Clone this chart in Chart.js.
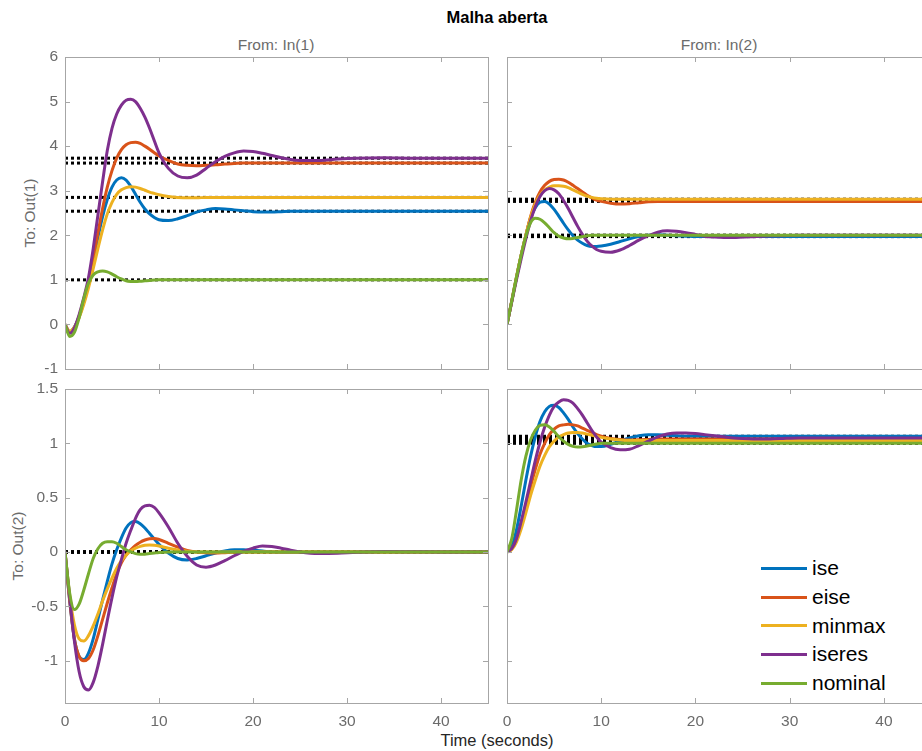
<!DOCTYPE html>
<html>
<head>
<meta charset="utf-8">
<script src="https://cdn.jsdelivr.net/npm/chart.js@4.4.1/dist/chart.umd.min.js"></script>
<style>
  html, body { margin: 0; padding: 0; background: #fff; width: 922px; height: 751px; overflow: hidden; }
  body { position: relative; font-family: "Liberation Sans", Arial, Helvetica, sans-serif; }
  canvas { position: absolute; }
  .txt { position: absolute; white-space: nowrap; transform: translate(-50%, -50%); }
  .gray { color: #6b6b6b; font-size: 15.5px; }
  .rot { transform: translate(-50%, -50%) rotate(-90deg); }
  #legend { position: absolute; left: 761px; top: 554px; }
  .row { height: 28.7px; display: flex; align-items: center; font-size: 21px; color: #000; }
  .swatch { width: 46px; height: 3px; margin-right: 5px; }
</style>
</head>
<body>
<div class="txt" style="left:497px;top:17px;font-weight:bold;font-size:16.5px;color:#000">Malha aberta</div>
<div class="txt gray" style="left:276px;top:45px">From: In(1)</div>
<div class="txt gray" style="left:719px;top:45px">From: In(2)</div>
<div class="txt gray rot" style="left:30px;top:213px">To: Out(1)</div>
<div class="txt gray rot" style="left:18px;top:546px">To: Out(2)</div>
<div class="txt" style="left:497px;top:740px;font-size:16.5px;color:#262626">Time (seconds)</div>
<div id="legend"></div>

<script>
// time samples (s), shared by all step responses
const t = [0, 0.5, 1, 1.5, 2, 2.5, 3, 3.5, 4, 4.5, 5, 5.5, 6, 6.5, 7, 7.5, 8, 8.5, 9, 9.5, 10,
  11, 12, 13, 14, 15, 16, 17, 18, 19, 20, 21, 22, 23, 24, 25,
  27, 29, 31, 34, 37, 40, 45];

const seriesNames = ['ise', 'eise', 'minmax', 'iseres', 'nominal'];
const seriesColors = ['#0072BD', '#D95319', '#EDB120', '#7E2F8E', '#77AC30'];

// In(1) -> Out(1)
const ise11 = [0, -0.17, -0.06, 0.17, 0.5, 0.92, 1.42, 1.95, 2.42, 2.8, 3.08, 3.24, 3.29, 3.24, 3.1, 2.92, 2.74, 2.59, 2.48, 2.4, 2.35,
  2.33, 2.37, 2.44, 2.52, 2.57, 2.6, 2.59, 2.57, 2.55, 2.53, 2.52, 2.52, 2.53, 2.54, 2.54,
  2.54, 2.54, 2.54, 2.54, 2.54, 2.54, 2.54];
const eise11 = [0, -0.17, -0.07, 0.18, 0.52, 0.95, 1.5, 2.05, 2.6, 3.08, 3.45, 3.73, 3.92, 4.03, 4.08, 4.09, 4.06, 4.0, 3.93, 3.85, 3.78,
  3.68, 3.6, 3.57, 3.56, 3.57, 3.58, 3.6, 3.61, 3.62, 3.62, 3.62, 3.62, 3.62, 3.62, 3.62,
  3.62, 3.62, 3.62, 3.62, 3.62, 3.62, 3.62];
const minmax11 = [0, -0.15, -0.06, 0.15, 0.45, 0.82, 1.25, 1.7, 2.12, 2.48, 2.74, 2.92, 3.02, 3.07, 3.09, 3.08, 3.05, 3.01, 2.97, 2.94, 2.91,
  2.87, 2.85, 2.84, 2.84, 2.85, 2.85, 2.85, 2.85, 2.85, 2.85, 2.85, 2.85, 2.85, 2.85, 2.85,
  2.85, 2.85, 2.85, 2.85, 2.85, 2.85, 2.85];
const iseres11 = [0, -0.2, -0.08, 0.22, 0.6, 1.05, 1.7, 2.45, 3.2, 3.9, 4.4, 4.72, 4.92, 5.03, 5.05, 5.0, 4.85, 4.65, 4.4, 4.12, 3.85,
  3.5, 3.33, 3.29, 3.35, 3.5, 3.65, 3.77, 3.85, 3.89, 3.88, 3.84, 3.79, 3.74, 3.7, 3.68,
  3.68, 3.71, 3.73, 3.74, 3.73, 3.73, 3.73];
const nominal11 = [0, -0.27, -0.18, 0.15, 0.58, 0.93, 1.11, 1.18, 1.2, 1.18, 1.13, 1.07, 1.02, 0.98, 0.965, 0.962, 0.968, 0.978, 0.988, 0.995, 1.0,
  1, 1, 1, 1, 1, 1, 1, 1, 1, 1, 1, 1, 1, 1, 1,
  1, 1, 1, 1, 1, 1, 1];

// In(2) -> Out(1)
const ise12 = [0, 0.52, 1.05, 1.55, 2.0, 2.38, 2.62, 2.74, 2.76, 2.7, 2.58, 2.43, 2.27, 2.12, 1.99, 1.89, 1.82, 1.77, 1.75, 1.75, 1.76,
  1.8, 1.86, 1.92, 1.97, 2.0, 2.01, 2.0, 1.99, 1.98, 1.97, 1.97, 1.97, 1.97, 1.97, 1.97,
  1.97, 1.97, 1.97, 1.97, 1.97, 1.97, 1.97];
const eise12 = [0, 0.52, 1.05, 1.55, 2.0, 2.42, 2.74, 2.97, 3.12, 3.21, 3.25, 3.26, 3.24, 3.19, 3.12, 3.05, 2.97, 2.9, 2.84, 2.79, 2.76,
  2.72, 2.7, 2.71, 2.73, 2.75, 2.76, 2.76, 2.76, 2.76, 2.76, 2.76, 2.76, 2.76, 2.76, 2.76,
  2.76, 2.76, 2.76, 2.76, 2.76, 2.76, 2.76];
const minmax12 = [0, 0.52, 1.05, 1.55, 2.0, 2.4, 2.7, 2.9, 3.02, 3.08, 3.11, 3.11, 3.1, 3.07, 3.02, 2.97, 2.92, 2.88, 2.85, 2.83, 2.82,
  2.81, 2.81, 2.81, 2.81, 2.81, 2.81, 2.81, 2.81, 2.81, 2.81, 2.81, 2.81, 2.81, 2.81, 2.81,
  2.81, 2.81, 2.81, 2.81, 2.81, 2.81, 2.81];
const iseres12 = [0, 0.5, 1.0, 1.47, 1.92, 2.32, 2.64, 2.87, 3.0, 3.05, 3.02, 2.93, 2.78, 2.6, 2.4, 2.2, 2.02, 1.87, 1.76, 1.68, 1.64,
  1.62, 1.67, 1.77, 1.89, 1.99, 2.07, 2.1, 2.09, 2.06, 2.02, 1.98, 1.96, 1.95, 1.95, 1.96,
  1.98, 1.99, 2.0, 2.0, 2.0, 2.0, 2.0];
const nominal12 = [0, 0.52, 1.05, 1.55, 1.98, 2.28, 2.38, 2.36, 2.28, 2.17, 2.06, 1.98, 1.94, 1.92, 1.93, 1.95, 1.97, 1.99, 2.0, 2.0, 2.0,
  2, 2, 2, 2, 2, 2, 2, 2, 2, 2, 2, 2, 2, 2, 2,
  2, 2, 2, 2, 2, 2, 2];

// In(1) -> Out(2)
const ise21 = [0, -0.45, -0.8, -0.96, -0.99, -0.93, -0.8, -0.62, -0.44, -0.27, -0.11, 0.02, 0.13, 0.22, 0.27, 0.28, 0.26, 0.22, 0.17, 0.12, 0.07,
  -0.01, -0.06, -0.073, -0.06, -0.035, -0.01, 0.01, 0.02, 0.02, 0.015, 0.008, 0, -0.005, -0.005, -0.003,
  0, 0, 0, 0, 0, 0, 0];
const eise21 = [0, -0.45, -0.8, -0.96, -1.0, -0.98, -0.9, -0.77, -0.62, -0.47, -0.33, -0.2, -0.1, -0.03, 0.02, 0.06, 0.09, 0.11, 0.122, 0.125, 0.115,
  0.08, 0.045, 0.015, 0, -0.008, -0.01, -0.006, -0.002, 0, 0, 0, 0, 0, 0, 0,
  0, 0, 0, 0, 0, 0, 0];
const minmax21 = [0, -0.4, -0.67, -0.8, -0.82, -0.77, -0.68, -0.57, -0.45, -0.34, -0.24, -0.15, -0.08, -0.03, 0.01, 0.035, 0.052, 0.062, 0.065, 0.062, 0.055,
  0.035, 0.018, 0.006, 0, 0, 0, 0, 0, 0, 0, 0, 0, 0, 0, 0,
  0, 0, 0, 0, 0, 0, 0];
const iseres21 = [0, -0.42, -0.82, -1.1, -1.24, -1.27, -1.2, -1.05, -0.85, -0.63, -0.42, -0.23, -0.07, 0.08, 0.2, 0.31, 0.39, 0.425, 0.43, 0.41, 0.36,
  0.23, 0.08, -0.04, -0.12, -0.14, -0.12, -0.08, -0.035, 0.005, 0.035, 0.055, 0.05, 0.035, 0.017, 0,
  -0.015, -0.012, -0.003, 0.004, 0.002, 0, 0];
const nominal21 = [0, -0.38, -0.53, -0.48, -0.35, -0.2, -0.06, 0.03, 0.08, 0.095, 0.095, 0.08, 0.05, 0.02, 0, -0.015, -0.02, -0.02, -0.015, -0.01, -0.005,
  0, 0, 0, 0, 0, 0, 0, 0, 0, 0, 0, 0, 0, 0, 0,
  0, 0, 0, 0, 0, 0, 0];

// In(2) -> Out(2)
const ise22 = [0, 0.05, 0.2, 0.42, 0.66, 0.88, 1.06, 1.2, 1.29, 1.34, 1.35, 1.33, 1.28, 1.22, 1.15, 1.09, 1.04, 1.0, 0.98, 0.97, 0.97,
  0.99, 1.02, 1.05, 1.07, 1.08, 1.08, 1.075, 1.07, 1.065, 1.065, 1.065, 1.065, 1.065, 1.065, 1.065,
  1.065, 1.065, 1.065, 1.065, 1.065, 1.065, 1.065];
const eise22 = [0, 0.03, 0.11, 0.25, 0.42, 0.6, 0.76, 0.9, 1.0, 1.08, 1.13, 1.16, 1.17, 1.175, 1.17, 1.16, 1.14, 1.12, 1.1, 1.08, 1.065,
  1.045, 1.035, 1.03, 1.032, 1.036, 1.04, 1.04, 1.04, 1.04, 1.04, 1.04, 1.04, 1.04, 1.04, 1.04,
  1.04, 1.04, 1.04, 1.04, 1.04, 1.04, 1.04];
const minmax22 = [0, 0.02, 0.09, 0.21, 0.36, 0.52, 0.66, 0.79, 0.89, 0.97, 1.02, 1.06, 1.08, 1.095, 1.1, 1.1, 1.095, 1.085, 1.075, 1.065, 1.055,
  1.04, 1.03, 1.025, 1.025, 1.025, 1.025, 1.025, 1.025, 1.025, 1.025, 1.025, 1.025, 1.025, 1.025, 1.025,
  1.025, 1.025, 1.025, 1.025, 1.025, 1.025, 1.025];
const iseres22 = [0, 0.03, 0.12, 0.28, 0.46, 0.65, 0.84, 1.01, 1.15, 1.26, 1.34, 1.38, 1.4, 1.395, 1.37, 1.32, 1.26, 1.19, 1.12, 1.06, 1.01,
  0.96, 0.94, 0.945, 0.98, 1.02, 1.06, 1.085, 1.095, 1.095, 1.09, 1.08, 1.07, 1.06, 1.05, 1.045,
  1.04, 1.045, 1.05, 1.05, 1.05, 1.05, 1.05];
const nominal22 = [0, 0.12, 0.38, 0.66, 0.88, 1.03, 1.12, 1.165, 1.17, 1.15, 1.11, 1.06, 1.02, 0.99, 0.972, 0.966, 0.968, 0.975, 0.985, 0.993, 1.0,
  1, 1, 1, 1, 1, 1, 1, 1, 1, 1, 1, 1, 1, 1, 1,
  1, 1, 1, 1, 1, 1, 1];

// steady-state values (dotted markers), same order as seriesNames
const steady11 = [2.54, 3.62, 2.85, 3.73, 1.0];
const steady12 = [1.97, 2.76, 2.81, 2.0, 2.0];
const steady21 = [0, 0, 0, 0, 0];
const steady22 = [1.065, 1.04, 1.025, 1.05, 1.0];

const xTicks = [0, 10, 20, 30, 40];
const yTicksOut1 = [-1, 0, 1, 2, 3, 4, 5, 6];
const yTicksOut2 = [-1, -0.5, 0, 0.5, 1, 1.5];

const frameColor = '#a6a6a6';
const tickTextColor = '#6b6b6b';
const fontFamily = '"Liberation Sans", Arial, Helvetica, sans-serif';

// MATLAB-style box with inward tick marks on all four sides
const boxTicks = {
  id: 'boxTicks',
  afterDraw(chart) {
    const { ctx, chartArea: a, scales: { x, y } } = chart;
    const len = 5;
    ctx.save();
    ctx.strokeStyle = frameColor;
    ctx.lineWidth = 1;
    ctx.beginPath();
    x.ticks.forEach(tk => {
      const px = Math.round(x.getPixelForValue(tk.value)) + 0.5;
      ctx.moveTo(px, a.top); ctx.lineTo(px, a.top + len);
      ctx.moveTo(px, a.bottom); ctx.lineTo(px, a.bottom - len);
    });
    y.ticks.forEach(tk => {
      const py = Math.round(y.getPixelForValue(tk.value)) + 0.5;
      ctx.moveTo(a.left, py); ctx.lineTo(a.left + len, py);
      ctx.moveTo(a.right, py); ctx.lineTo(a.right - len, py);
    });
    ctx.stroke();
    ctx.strokeRect(Math.round(a.left) + 0.5, Math.round(a.top) + 0.5,
      Math.round(a.right - a.left), Math.round(a.bottom - a.top));
    ctx.restore();
  }
};

function makePanel(area, series, steady, yMin, yMax, yTicks, showX, showY) {
  const padTop = 12, padRight = 6;
  const yW = showY ? area.left : 10;
  const xH = showX ? 40 : 12;
  const canvas = document.createElement('canvas');
  const w = yW + (area.right - area.left) + padRight;
  const h = padTop + (area.bottom - area.top) + xH;
  canvas.width = w; canvas.height = h;
  canvas.style.left = (area.left - yW) + 'px';
  canvas.style.top = (area.top - padTop) + 'px';
  document.body.appendChild(canvas);

  const datasets = [];
  // steady-state markers sit underneath the responses
  steady.forEach(v => datasets.push({
    data: [{ x: 0, y: v }, { x: 45, y: v }],
    borderColor: '#000', borderWidth: 3, borderDash: [3, 3],
    pointRadius: 0, order: 10
  }));
  series.forEach((vals, i) => datasets.push({
    label: seriesNames[i],
    data: t.map((tt, k) => ({ x: tt, y: vals[k] })),
    borderColor: seriesColors[i], borderWidth: 3,
    pointRadius: 0, cubicInterpolationMode: 'monotone',
    order: 5 - i
  }));

  new Chart(canvas, {
    type: 'line',
    data: { datasets },
    options: {
      responsive: false,
      animation: false,
      layout: { padding: { top: padTop, right: padRight, left: 0, bottom: 0 } },
      plugins: { legend: { display: false }, tooltip: { enabled: false } },
      scales: {
        x: {
          type: 'linear', min: 0, max: 45,
          grid: { display: false, drawTicks: false },
          border: { display: false },
          afterBuildTicks: s => { s.ticks = xTicks.map(v => ({ value: v })); },
          // fixed axis band; label overhang must not shrink the plot box
          afterFit: s => { s.height = xH; s.paddingLeft = 0; s.paddingRight = 0; },
          ticks: {
            display: showX, padding: 9, color: tickTextColor,
            font: { family: fontFamily, size: 15.5 },
            maxRotation: 0, callback: v => String(v)
          }
        },
        y: {
          type: 'linear', min: yMin, max: yMax,
          grid: { display: false, drawTicks: false },
          border: { display: false },
          afterBuildTicks: s => { s.ticks = yTicks.map(v => ({ value: v })); },
          afterFit: s => { s.width = yW; s.paddingTop = 0; s.paddingBottom = 0; },
          ticks: {
            display: showY, padding: 7, color: tickTextColor,
            font: { family: fontFamily, size: 15.5 },
            callback: v => String(v)
          }
        }
      }
    },
    plugins: [boxTicks]
  });
}

makePanel({ left: 65, top: 57, right: 488, bottom: 369 },
  [ise11, eise11, minmax11, iseres11, nominal11], steady11, -1, 6, yTicksOut1, false, true);
makePanel({ left: 507, top: 57, right: 931, bottom: 369 },
  [ise12, eise12, minmax12, iseres12, nominal12], steady12, -1, 6, yTicksOut1, false, false);
makePanel({ left: 65, top: 389, right: 488, bottom: 703 },
  [ise21, eise21, minmax21, iseres21, nominal21], steady21, -1.39, 1.5, yTicksOut2, true, true);
makePanel({ left: 507, top: 389, right: 931, bottom: 703 },
  [ise22, eise22, minmax22, iseres22, nominal22], steady22, -1.39, 1.5, yTicksOut2, true, false);

// legend rows
const legend = document.getElementById('legend');
seriesNames.forEach((name, i) => {
  const row = document.createElement('div');
  row.className = 'row';
  row.innerHTML = '<div class="swatch" style="background:' + seriesColors[i] + '"></div><span>' + name + '</span>';
  legend.appendChild(row);
});
</script>
</body>
</html>
